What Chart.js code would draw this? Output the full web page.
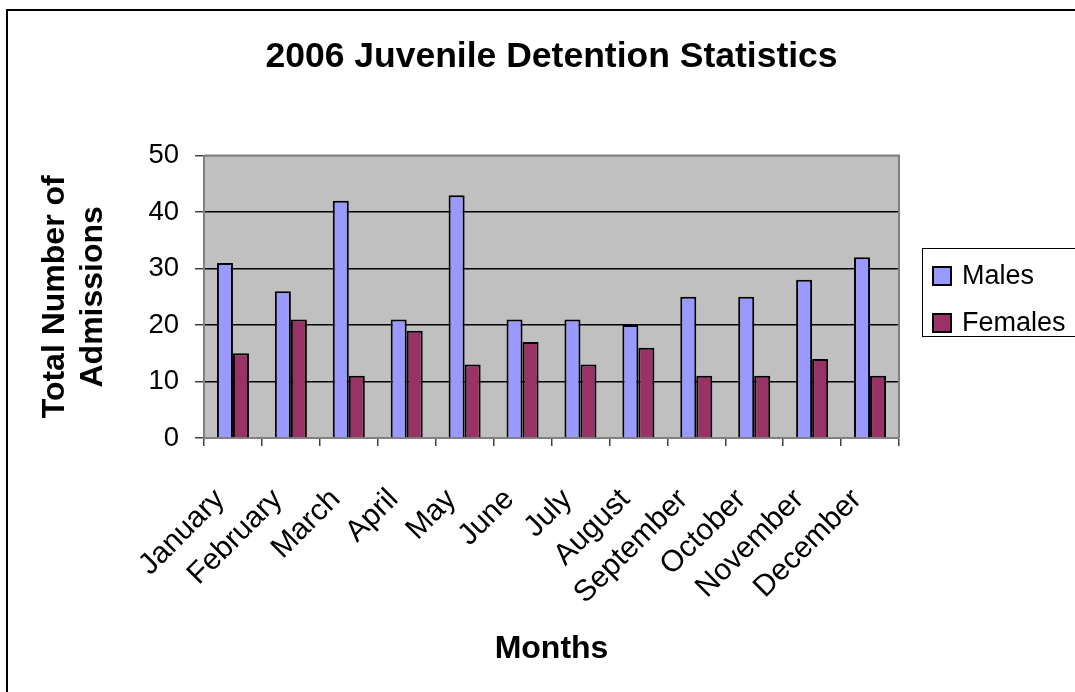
<!DOCTYPE html>
<html>
<head>
<meta charset="utf-8">
<title>2006 Juvenile Detention Statistics</title>
<script src="https://cdn.jsdelivr.net/npm/chart.js@4"></script>
<style>
  html, body { margin: 0; padding: 0; background: #fff; overflow: hidden; }
  #chart { display: block; }
</style>
</head>
<body>
<canvas id="chart" width="1075" height="692"></canvas>
<script>
const months = ['January', 'February', 'March', 'April', 'May', 'June',
  'July', 'August', 'September', 'October', 'November', 'December'];
const males = [31, 26, 42, 21, 43, 21, 21, 20, 25, 25, 28, 32];
const females = [15, 21, 11, 19, 13, 17, 13, 16, 11, 11, 14, 11];
const seriesNames = ['Males', 'Females'];
const yMin = 0;
const yMax = 50;
const yStep = 10;

const FONT = "'Liberation Sans', Arial, sans-serif";

// gray plot area, outer frame, plot border
const frame = {
  id: 'frame',
  beforeDraw(chart) {
    const { ctx, chartArea: a } = chart;
    ctx.save();
    ctx.fillStyle = '#fff';
    ctx.fillRect(0, 0, chart.width, chart.height);
    ctx.fillStyle = '#c0c0c0';
    ctx.fillRect(a.left, a.top, a.right - a.left, a.bottom - a.top);
    ctx.restore();
  },
  afterDraw(chart) {
    const { ctx, chartArea: a } = chart;
    ctx.save();
    ctx.strokeStyle = '#808080';
    ctx.lineWidth = 2;
    ctx.beginPath();
    ctx.moveTo(a.left, a.top);
    ctx.lineTo(a.right, a.top);
    ctx.lineTo(a.right, a.bottom);
    ctx.stroke();
    ctx.strokeStyle = '#000';
    ctx.lineWidth = 2;
    ctx.strokeRect(7, 10, 1200, 800);
    ctx.restore();
  }
};

// Excel style boxed legend on the right
const boxLegend = {
  id: 'boxLegend',
  afterDraw(chart) {
    const { ctx } = chart;
    const x = 922, y = 248, rowH = 47;
    ctx.save();
    ctx.strokeStyle = '#000';
    ctx.lineWidth = 1;
    ctx.strokeRect(x + 0.5, y + 0.5, 200, 88);
    ctx.font = '27px ' + FONT;
    ctx.textBaseline = 'middle';
    chart.data.datasets.forEach((ds, i) => {
      const cy = y + 28 + i * rowH;
      ctx.fillStyle = ds.backgroundColor;
      ctx.fillRect(11 + x, cy - 9, 18, 18);
      ctx.lineWidth = 2;
      ctx.strokeStyle = '#000';
      ctx.strokeRect(11 + x, cy - 9, 18, 18);
      ctx.fillStyle = '#000';
      ctx.fillText(ds.label, x + 40, cy + 1);
    });
    ctx.restore();
  }
};

new Chart(document.getElementById('chart'), {
  type: 'bar',
  data: {
    labels: months,
    datasets: [
      {
        label: seriesNames[0],
        data: males,
        backgroundColor: '#9999ff',
        borderColor: '#000',
        borderWidth: 2
      },
      {
        label: seriesNames[1],
        data: females,
        backgroundColor: '#993366',
        borderColor: '#000',
        borderWidth: 2
      }
    ]
  },
  options: {
    responsive: false,
    animation: false,
    devicePixelRatio: 1,
    categoryPercentage: 0.553,
    barPercentage: 1.0,
    layout: { padding: { left: 0, right: 176, top: 0, bottom: 0 } },
    plugins: {
      legend: { display: false },
      tooltip: { enabled: false },
      title: {
        display: true,
        fullSize: false,
        text: '2006 Juvenile Detention Statistics',
        color: '#000',
        font: { family: FONT, size: 35.5, weight: 'bold' },
        padding: { top: 36, bottom: 77 }
      }
    },
    scales: {
      x: {
        offset: true,
        grid: {
          offset: true,
          drawOnChartArea: false,
          drawTicks: true,
          tickLength: 8,
          tickColor: '#404040',
          lineWidth: 1.5
        },
        border: { display: true, color: '#808080', width: 2 },
        ticks: {
          color: '#000',
          font: { family: FONT, size: 30 },
          minRotation: 45,
          maxRotation: 45,
          autoSkip: false,
          padding: 36,
          labelOffset: -13
        },
        title: {
          display: true,
          text: 'Months',
          color: '#000',
          font: { family: FONT, size: 32, weight: 'bold' },
          padding: { top: 0, bottom: 24 }
        },
        afterFit(scale) { scale.height = 254; }
      },
      y: {
        min: yMin,
        max: yMax,
        grid: {
          color: ctx => (ctx.tick && (ctx.tick.value === yMax || ctx.tick.value === yMin)) ? '#808080' : '#000',
          lineWidth: 1.5,
          tickLength: 9,
          tickColor: '#404040'
        },
        border: { display: true, color: '#808080', width: 2 },
        ticks: {
          stepSize: yStep,
          color: '#000',
          font: { family: FONT, size: 27.5 },
          padding: 16
        },
        title: {
          display: true,
          text: ['Total Number of', 'Admissions'],
          color: '#000',
          font: { family: FONT, size: 32, weight: 'bold' },
          padding: { top: 36, bottom: 0 }
        },
        afterFit(scale) { scale.width = 204; }
      }
    }
  },
  plugins: [frame, boxLegend]
});
</script>
</body>
</html>
